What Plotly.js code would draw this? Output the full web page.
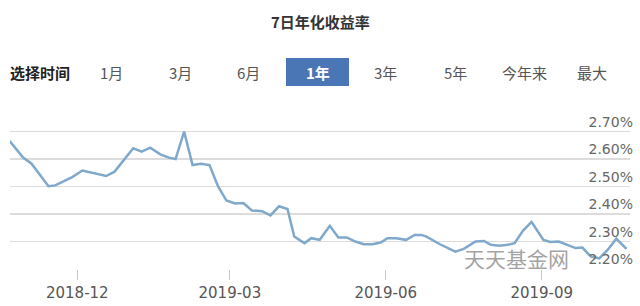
<!DOCTYPE html>
<html>
<head>
<meta charset="utf-8">
<script src="https://cdn.plot.ly/plotly-3.0.1.min.js"></script>
<style>html,body{margin:0;padding:0;background:#fff;}#chart{width:640px;height:306px;}</style>
</head>
<body>
<div id="chart"></div>
<script>
// ---- data ----
const dates = [
  '2018-10-22','2018-10-30','2018-11-04','2018-11-14','2018-11-18','2018-11-28',
  '2018-12-04','2018-12-13','2018-12-18','2018-12-23','2018-12-28','2019-01-03',
  '2019-01-08','2019-01-13','2019-01-19','2019-01-24','2019-01-28','2019-02-02',
  '2019-02-07','2019-02-12','2019-02-17','2019-02-22','2019-02-27','2019-03-04',
  '2019-03-09','2019-03-14','2019-03-20','2019-03-25','2019-03-30','2019-04-04',
  '2019-04-08','2019-04-14','2019-04-18','2019-04-23','2019-04-29','2019-05-04',
  '2019-05-09','2019-05-14','2019-05-19','2019-05-24','2019-05-29','2019-06-02',
  '2019-06-07','2019-06-13','2019-06-18','2019-06-22','2019-06-25','2019-07-03',
  '2019-07-12','2019-07-17','2019-07-24','2019-07-29','2019-08-02','2019-08-07',
  '2019-08-12','2019-08-16','2019-08-21','2019-08-26','2019-09-02','2019-09-06',
  '2019-09-11','2019-09-17','2019-09-21','2019-09-25','2019-09-30','2019-10-05',
  '2019-10-10','2019-10-15','2019-10-21'
];
const yields = [
  2.666,2.605,2.583,2.501,2.504,2.534,
  2.558,2.544,2.538,2.554,2.592,2.639,
  2.627,2.641,2.617,2.605,2.600,2.700,
  2.578,2.583,2.578,2.501,2.449,2.438,
  2.440,2.413,2.410,2.395,2.428,2.418,
  2.318,2.294,2.312,2.306,2.357,2.315,
  2.315,2.300,2.290,2.290,2.296,2.312,
  2.312,2.306,2.324,2.324,2.318,2.290,
  2.263,2.273,2.300,2.302,2.288,2.285,
  2.288,2.294,2.340,2.371,2.306,2.298,
  2.300,2.285,2.276,2.278,2.245,2.239,
  2.270,2.310,2.273
];
const xTickVals = ['2018-12-01','2019-03-01','2019-06-01','2019-09-01'];
const xTickText = ['2018-12','2019-03','2019-06','2019-09'];
const yTickVals = [2.2,2.3,2.4,2.5,2.6,2.7,2.8];
const yTickText = ['2.20%','2.30%','2.40%','2.50%','2.60%','2.70%',''];
const titleText = '7日年化收益率';
const pickerLabel = '选择时间';
const buttonLabels = ['1月','3月','6月','1年','3年','5年','今年来','最大'];
const activeButton = '1年';
const watermark = '天天基金网';

// ---- layout helpers (pixel -> paper) ----
const L = 10, R = 630, T = 104, B = 269;
const px = x => (x - L) / (R - L);
const py = y => (B - y) / (B - T);
const buttonX = [111,180,248,318,385,455,524,592];
const cjk = '"Noto Sans CJK SC", "Noto Sans", sans-serif';

const annotations = [];
annotations.push({text:'<b>'+titleText+'</b>', xref:'paper', yref:'paper', x:px(320), y:py(21),
  showarrow:false, xanchor:'center', yanchor:'middle', font:{family:cjk, size:15, color:'#333'}});
annotations.push({text:'<b>'+pickerLabel+'</b>', xref:'paper', yref:'paper', x:px(8), y:py(72),
  showarrow:false, xanchor:'left', yanchor:'middle', font:{family:cjk, size:15, color:'#222'}});
buttonLabels.forEach((b,i) => {
  const active = b === activeButton;
  annotations.push({text: active ? '<b>'+b+'</b>' : b, xref:'paper', yref:'paper', x:px(buttonX[i]), y:py(72),
    showarrow:false, xanchor:'center', yanchor:'middle',
    font:{family:cjk, size:15, color: active ? '#ffffff' : '#555'}});
});
annotations.push({text:watermark, xref:'paper', yref:'paper', x:px(516), y:py(258),
  showarrow:false, xanchor:'center', yanchor:'middle',
  font:{family:cjk, size:21, color:'rgba(120,120,120,0.7)'}});

const shapes = [{type:'rect', xref:'paper', yref:'paper', x0:px(286), x1:px(349), y0:py(86), y1:py(58),
  fillcolor:'#4a76b6', line:{width:0}, layer:'below'}];

Plotly.newPlot('chart', [{
  x: dates, y: yields, type:'scatter', mode:'lines',
  line:{color:'#7fa8ca', width:2.5, shape:'linear'}, hoverinfo:'skip'
}], {
  width:640, height:306,
  margin:{l:L, r:640-R, t:T, b:306-B, pad:0},
  paper_bgcolor:'#fff', plot_bgcolor:'#fff',
  showlegend:false,
  xaxis:{type:'date', range:['2018-10-22 07:00','2019-10-23 02:00'],
    tickvals:xTickVals, ticktext:xTickText, ticks:'outside', ticklen:10, tickcolor:'#c8c8c8',
    showgrid:false, zeroline:false, showline:false,
    tickfont:{family:'"DejaVu Sans", sans-serif', size:15, color:'#555'}},
  yaxis:{range:[2.2,2.8], side:'right', tickvals:yTickVals, ticktext:yTickText,
    ticklabelposition:'inside top', ticklabelstandoff:-6, showgrid:true, gridcolor:'#dcdcdc', gridwidth:1.2,
    zeroline:false, showline:false, ticks:'',
    tickfont:{family:'"DejaVu Sans", sans-serif', size:14, color:'#666'}},
  annotations: annotations, shapes: shapes
}, {displayModeBar:false, staticPlot:true});
</script>
</body>
</html>
